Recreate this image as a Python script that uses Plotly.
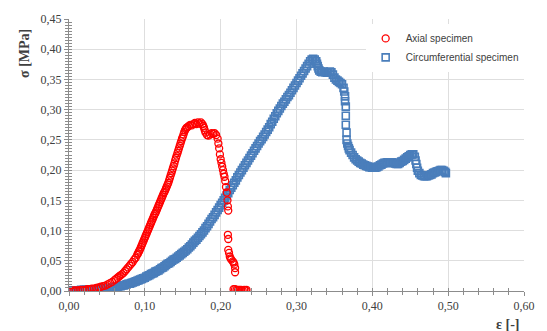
import plotly.graph_objects as go

# Axial specimen (red open circles)
axial_x = [0.000, 0.003, 0.006, 0.009, 0.012, 0.015, 0.018, 0.021, 0.024, 0.027,
           0.030, 0.033, 0.036, 0.039, 0.042, 0.045, 0.048, 0.051, 0.054, 0.057,
           0.060, 0.062, 0.064, 0.066, 0.068, 0.070, 0.072, 0.074, 0.076, 0.078,
           0.080, 0.082, 0.084, 0.086, 0.088,
           0.090, 0.091, 0.092, 0.093, 0.094, 0.095, 0.096, 0.097, 0.098, 0.099,
           0.100, 0.101, 0.102, 0.103, 0.104, 0.105, 0.106, 0.107, 0.108, 0.109,
           0.110, 0.111, 0.112, 0.113, 0.114, 0.115, 0.116, 0.117, 0.118, 0.119,
           0.120, 0.121, 0.122, 0.123, 0.124, 0.125, 0.126, 0.127, 0.128, 0.129,
           0.130, 0.131, 0.132, 0.133, 0.134, 0.135, 0.136, 0.137, 0.138, 0.139,
           0.140, 0.141, 0.142, 0.143, 0.144, 0.145, 0.146, 0.147, 0.148, 0.149,
           0.150, 0.151, 0.152, 0.153, 0.154, 0.155, 0.156,
           0.158, 0.160, 0.162, 0.164, 0.166, 0.168, 0.170, 0.172, 0.174, 0.176,
           0.177, 0.178, 0.179, 0.180, 0.182, 0.184, 0.186, 0.188, 0.190, 0.192,
           0.194, 0.196, 0.197, 0.198, 0.199, 0.200, 0.201, 0.202, 0.203, 0.204,
           0.205, 0.206, 0.207, 0.208, 0.209, 0.2095, 0.2100,
           0.2095, 0.210, 0.210, 0.211, 0.212, 0.213, 0.214, 0.216, 0.217, 0.218,
           0.219, 0.219,
           0.217, 0.219, 0.221, 0.223, 0.225, 0.227, 0.229, 0.231, 0.233, 0.234]
axial_y = [0.000, 0.000, 0.001, 0.001, 0.001, 0.002, 0.002, 0.002, 0.003, 0.003,
           0.004, 0.004, 0.005, 0.006, 0.007, 0.008, 0.009, 0.011, 0.013, 0.015,
           0.018, 0.020, 0.022, 0.024, 0.026, 0.028, 0.030, 0.033, 0.036, 0.039,
           0.042, 0.045, 0.048, 0.052, 0.055,
           0.060, 0.062, 0.065, 0.067, 0.070, 0.073, 0.076, 0.079, 0.082, 0.085,
           0.088, 0.091, 0.094, 0.097, 0.100, 0.103, 0.106, 0.109, 0.112, 0.115,
           0.118, 0.121, 0.124, 0.127, 0.129, 0.132, 0.135, 0.138, 0.141, 0.144,
           0.147, 0.150, 0.153, 0.156, 0.159, 0.162, 0.164, 0.167, 0.170, 0.173,
           0.176, 0.179, 0.183, 0.187, 0.191, 0.195, 0.199, 0.203, 0.207, 0.211,
           0.216, 0.220, 0.224, 0.228, 0.232, 0.236, 0.240, 0.244, 0.248, 0.252,
           0.255, 0.259, 0.263, 0.266, 0.268, 0.270, 0.271,
           0.273, 0.275, 0.274, 0.276, 0.278, 0.276, 0.279, 0.277, 0.279, 0.276,
           0.273, 0.270, 0.266, 0.262, 0.258, 0.257, 0.259, 0.261, 0.260, 0.261,
           0.258, 0.252, 0.244, 0.236, 0.226, 0.218, 0.212, 0.206, 0.200, 0.194,
           0.189, 0.182, 0.172, 0.163, 0.150, 0.140, 0.133,
           0.093, 0.086, 0.068, 0.063, 0.057, 0.054, 0.052, 0.049, 0.047, 0.044,
           0.038, 0.031,
           0.003, 0.003, 0.002, 0.002, 0.002, 0.002, 0.001, 0.002, 0.001, 0.002]

# Circumferential specimen (blue open squares)
circ_x = [0.000, 0.002, 0.004, 0.006, 0.008, 0.010, 0.012, 0.014, 0.016, 0.018,
          0.020, 0.022, 0.024, 0.026, 0.028, 0.030, 0.032, 0.034, 0.036, 0.038,
          0.040, 0.042, 0.044, 0.046, 0.048, 0.050, 0.052, 0.054, 0.056, 0.058,
          0.060, 0.062, 0.064, 0.066, 0.068, 0.070, 0.072, 0.074, 0.076, 0.078,
          0.080, 0.082, 0.084, 0.086, 0.088, 0.090, 0.092, 0.094, 0.096, 0.098,
          0.100, 0.102, 0.104, 0.106, 0.108, 0.110, 0.112, 0.114, 0.116, 0.118,
          0.120, 0.122, 0.124, 0.126, 0.128, 0.130, 0.132, 0.134, 0.136, 0.138,
          0.140, 0.142, 0.144, 0.146, 0.148, 0.150, 0.152, 0.154, 0.156, 0.158,
          0.160, 0.162, 0.164, 0.166, 0.168, 0.170, 0.172, 0.174, 0.176, 0.178,
          0.180, 0.182, 0.184, 0.186, 0.188, 0.190, 0.192, 0.194, 0.196, 0.198,
          0.200, 0.202, 0.204, 0.206, 0.208, 0.210, 0.212, 0.214, 0.216, 0.218,
          0.220, 0.222, 0.224, 0.226, 0.228, 0.230, 0.232, 0.234, 0.236, 0.238,
          0.240, 0.242, 0.244, 0.246, 0.248, 0.250, 0.252, 0.254, 0.256, 0.258,
          0.260, 0.262, 0.264, 0.266, 0.268, 0.270, 0.272, 0.274, 0.276, 0.278,
          0.280, 0.282, 0.284, 0.286, 0.288, 0.290, 0.292, 0.294, 0.296, 0.298,
          0.300, 0.302, 0.304, 0.306, 0.308, 0.310, 0.312, 0.314, 0.316, 0.318,
          0.320, 0.322, 0.324, 0.326, 0.327, 0.328, 0.329, 0.330, 0.332, 0.334,
          0.336, 0.338, 0.340, 0.342, 0.344, 0.346, 0.348, 0.350, 0.352, 0.354,
          0.356, 0.358, 0.360, 0.362, 0.363,
          0.364, 0.364, 0.365, 0.365, 0.365, 0.366, 0.366, 0.367,
          0.368, 0.369, 0.370, 0.372, 0.374, 0.376, 0.378, 0.380, 0.382, 0.384,
          0.386, 0.388, 0.390, 0.392, 0.394, 0.396, 0.398, 0.400, 0.402, 0.404,
          0.406, 0.408, 0.410, 0.412, 0.414, 0.416, 0.418, 0.420, 0.422, 0.424,
          0.426, 0.428, 0.430, 0.432, 0.434, 0.436, 0.438, 0.440, 0.442, 0.444,
          0.446, 0.448, 0.450, 0.452, 0.454, 0.456, 0.457, 0.458, 0.459, 0.460,
          0.462, 0.464, 0.466, 0.468, 0.470, 0.472, 0.474, 0.476, 0.478, 0.480,
          0.482, 0.484, 0.486, 0.488, 0.490, 0.492, 0.494, 0.496, 0.497]
circ_y = [0.000, 0.000, 0.001, 0.000, 0.001, 0.001, 0.001, 0.001, 0.002, 0.001,
          0.002, 0.002, 0.002, 0.002, 0.003, 0.002, 0.003, 0.003, 0.003, 0.003,
          0.004, 0.003, 0.004, 0.004, 0.004, 0.004, 0.004, 0.005, 0.005, 0.006,
          0.006, 0.007, 0.007, 0.008, 0.008, 0.009, 0.009, 0.010, 0.011, 0.012,
          0.012, 0.013, 0.014, 0.015, 0.016, 0.017, 0.018, 0.019, 0.020, 0.021,
          0.022, 0.024, 0.025, 0.026, 0.028, 0.029, 0.030, 0.032, 0.033, 0.034,
          0.036, 0.038, 0.039, 0.041, 0.043, 0.045, 0.046, 0.048, 0.050, 0.052,
          0.053, 0.055, 0.057, 0.059, 0.061, 0.063, 0.065, 0.067, 0.069, 0.072,
          0.074, 0.077, 0.080, 0.083, 0.085, 0.088, 0.091, 0.094, 0.097, 0.100,
          0.104, 0.107, 0.111, 0.115, 0.119, 0.122, 0.126, 0.130, 0.134, 0.138,
          0.142, 0.146, 0.150, 0.154, 0.158, 0.162, 0.167, 0.171, 0.175, 0.179,
          0.183, 0.188, 0.192, 0.196, 0.200, 0.204, 0.208, 0.212, 0.216, 0.220,
          0.224, 0.228, 0.232, 0.236, 0.240, 0.244, 0.248, 0.251, 0.255, 0.259,
          0.263, 0.267, 0.271, 0.276, 0.280, 0.285, 0.289, 0.294, 0.298, 0.302,
          0.306, 0.310, 0.313, 0.317, 0.321, 0.324, 0.328, 0.332, 0.336, 0.340,
          0.344, 0.348, 0.352, 0.356, 0.360, 0.364, 0.368, 0.372, 0.376, 0.380,
          0.383, 0.384, 0.383, 0.380, 0.376, 0.372, 0.368, 0.365, 0.363, 0.362,
          0.363, 0.362, 0.361, 0.362, 0.363, 0.362, 0.358, 0.353, 0.350, 0.348,
          0.346, 0.344, 0.342, 0.336, 0.330,
          0.322, 0.314, 0.305, 0.290, 0.275, 0.262, 0.250, 0.244,
          0.240, 0.236, 0.233, 0.229, 0.225, 0.221, 0.218, 0.216, 0.214, 0.212,
          0.211, 0.209, 0.208, 0.207, 0.206, 0.205, 0.205, 0.204, 0.204, 0.204,
          0.205, 0.206, 0.208, 0.209, 0.211, 0.212, 0.212, 0.213, 0.213, 0.212,
          0.213, 0.212, 0.211, 0.210, 0.210, 0.212, 0.214, 0.215, 0.217, 0.219,
          0.221, 0.223, 0.225, 0.226, 0.226, 0.222, 0.216, 0.210, 0.204, 0.199,
          0.195, 0.192, 0.191, 0.190, 0.190, 0.190, 0.191, 0.192, 0.193, 0.195,
          0.196, 0.197, 0.198, 0.199, 0.200, 0.200, 0.199, 0.197, 0.195]

x_ticks = [0.0, 0.1, 0.2, 0.3, 0.4, 0.5, 0.6]
y_ticks = [0.00, 0.05, 0.10, 0.15, 0.20, 0.25, 0.30, 0.35, 0.40, 0.45]

AX = "#8c8c8c"
GRID = "#dedede"
TXT = "#404040"
SERIF = "Liberation Serif, Times New Roman, serif"
SANS = "Liberation Sans, Arial, sans-serif"

fig = go.Figure()
fig.add_trace(go.Scatter(
    x=circ_x, y=circ_y, mode="markers", name="Circumferential specimen", legendrank=2,
    marker=dict(symbol="square-open", size=7, color="#4a7ebb", line=dict(width=1.6)),
))
fig.add_trace(go.Scatter(
    x=axial_x, y=axial_y, mode="markers", name="Axial specimen", legendrank=1,
    marker=dict(symbol="circle-open", size=7, color="#ff0000", line=dict(width=1.3)),
))
# helper invisible trace carrying the overlay axes (gives crossing tick marks)
fig.add_trace(go.Scatter(x=[0], y=[0], xaxis="x2", yaxis="y2", mode="markers",
                         marker=dict(opacity=0), showlegend=False, hoverinfo="skip"))

fig.update_layout(
    width=547, height=331,
    margin=dict(l=69, r=15, t=12, b=40),
    paper_bgcolor="white", plot_bgcolor="white",
    separators=",.",
    showlegend=True,
    legend=dict(x=0.652, y=0.982, xanchor="left", yanchor="top",
                bgcolor="white", borderwidth=0,
                font=dict(family=SANS, size=10, color=TXT),
                itemwidth=30, tracegroupgap=0),
    xaxis=dict(range=[0, 0.6], tickvals=x_ticks, tickformat=".2f",
               showgrid=True, gridcolor=GRID, gridwidth=1,
               showline=True, linecolor=AX, linewidth=1,
               ticks="outside", ticklen=4, tickcolor=AX,
               minor=dict(dtick=0.02, tick0=0, ticks="outside", ticklen=3, tickcolor=AX, showgrid=False),
               tickfont=dict(family=SERIF, size=12, color=TXT), zeroline=False),
    yaxis=dict(range=[0, 0.45], tickvals=y_ticks, tickformat=".2f",
               showgrid=True, gridcolor=GRID, gridwidth=1,
               showline=True, linecolor=AX, linewidth=1,
               ticks="outside", ticklen=4, tickcolor=AX,
               minor=dict(dtick=0.005, tick0=0, ticks="outside", ticklen=3, tickcolor=AX, showgrid=False),
               tickfont=dict(family=SERIF, size=12, color=TXT), zeroline=False),
    xaxis2=dict(range=[0, 0.6], overlaying="x", anchor="y", side="bottom",
                showgrid=False, showticklabels=False, zeroline=False,
                tickvals=x_ticks, ticks="inside", ticklen=3, tickcolor=AX,
                minor=dict(dtick=0.02, tick0=0, ticks="inside", ticklen=3, tickcolor=AX, showgrid=False)),
    yaxis2=dict(range=[0, 0.45], overlaying="y", anchor="x", side="left",
                showgrid=False, showticklabels=False, zeroline=False,
                tickvals=y_ticks, ticks="inside", ticklen=3, tickcolor=AX,
                minor=dict(dtick=0.005, tick0=0, ticks="inside", ticklen=3, tickcolor=AX, showgrid=False)),
    annotations=[
        dict(text="<b>σ [MPa]</b>", xref="paper", yref="paper",
             x=-0.099, y=0.875, xanchor="center", yanchor="middle", textangle=-90,
             showarrow=False, font=dict(family=SERIF, size=14, color=TXT)),
        dict(text="<b>ε [-]</b>", xref="paper", yref="paper",
             x=0.964, y=-0.122, xanchor="center", yanchor="middle",
             showarrow=False, font=dict(family=SERIF, size=14, color=TXT)),
    ],
)

fig.write_html("out.html")
